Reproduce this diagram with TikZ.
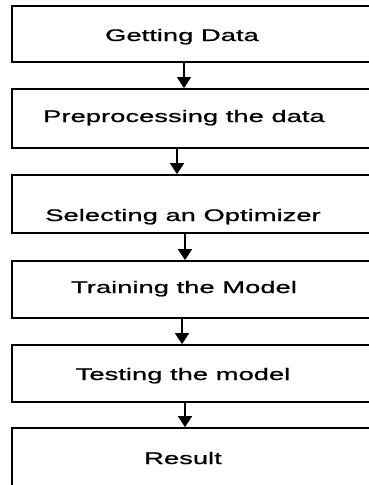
\documentclass[tikz,border=0pt]{standalone}
\usepackage{fontspec}
\setmainfont{Liberation Sans}
% wide sans face for the step captions
\newfontfamily\wideface[FakeStretch=1.63,FakeBold=0.9]{Liberation Sans}
\usetikzlibrary{arrows.meta}
\begin{document}
\begin{tikzpicture}[x=1pt,y=-1pt,
  stepbox/.style={draw, line width=1.8pt, minimum width=368pt, inner sep=0pt},
  steptext/.style={anchor=base, inner sep=0pt, font=\wideface\fontsize{16.8}{20}\selectfont},
  flow/.style={line width=1.8pt, -{Triangle[width=14pt,length=11pt]}}]
\useasboundingbox (0,0) rectangle (369,485);
\clip (0,0) rectangle (369,485);

% step boxes (they run past the right edge)
\node[stepbox, minimum height=56pt] (b1) at (196,34) {};
\node[stepbox, minimum height=59pt] (b2) at (196,118.5) {};
\node[stepbox, minimum height=58pt] (b3) at (196,204) {};
\node[stepbox, minimum height=57pt] (b4) at (196,289.5) {};
\node[stepbox, minimum height=57pt] (b5) at (196,373.5) {};
\node[stepbox, minimum height=72pt] (b6) at (196,464) {};

% captions
\node[steptext] (t1) at (182,41) {Getting Data};
\node[steptext] (t2) at (184,122) {Preprocessing the data};
\node[steptext] (t3) at (183,221) {Selecting an Optimizer};
\node[steptext] (t4) at (184,293) {Training the Model};
\node[steptext] (t5) at (183,380) {Testing the model};
\node[steptext] (t6) at (183,464) {Result};

% connectors
\draw[flow] ([xshift=-12pt]b1.south) -- ([xshift=-12pt]b2.north);
\draw[flow] ([xshift=-19pt]b2.south) -- ([xshift=-19pt]b3.north);
\draw[flow] ([xshift=-11pt]b3.south) -- ([xshift=-11pt]b4.north);
\draw[flow] ([xshift=-14pt]b4.south) -- ([xshift=-14pt]b5.north);
\draw[flow] ([xshift=-11pt]b5.south) -- ([xshift=-11pt]b6.north);
\end{tikzpicture}
\end{document}
